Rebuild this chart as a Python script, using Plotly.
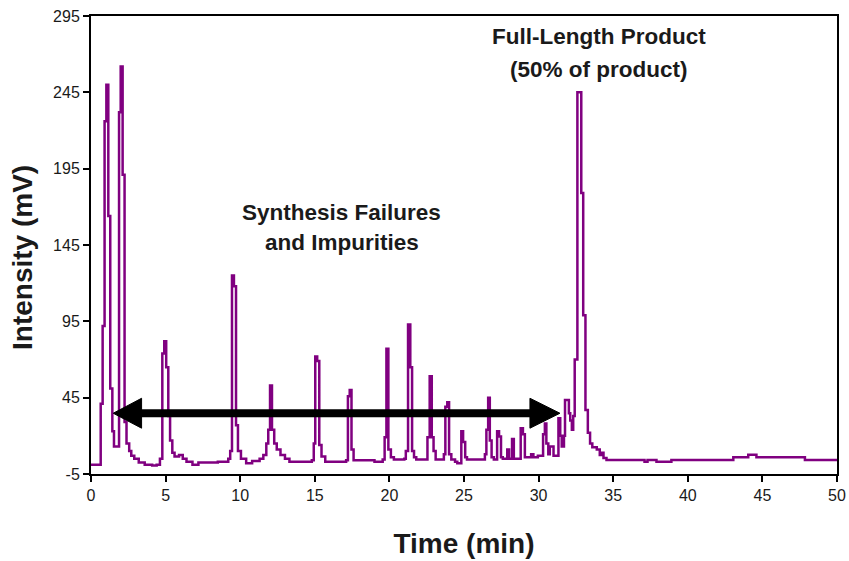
import plotly.graph_objects as go

# Chromatogram (step trace): time (min) and intensity (mV)
time_min = [0, 0.65, 0.78, 0.91, 1.03, 1.16, 1.29, 1.43, 1.54, 1.88, 1.99, 2.12, 2.25, 2.38,
            2.56, 2.7, 2.9, 3.2, 3.6, 4.1, 4.4, 4.62, 4.78, 4.91, 5.04, 5.18, 5.3, 5.45, 5.6,
            5.9, 6.15, 6.4, 6.8, 7.2, 8.5, 9.2, 9.33, 9.45, 9.58, 9.72, 9.85, 10.05, 10.4,
            10.8, 11.3, 11.55, 11.75, 11.88, 12.0, 12.13, 12.28, 12.45, 12.7, 13.0, 13.3,
            14.8, 14.93, 15.03, 15.16, 15.3, 15.45, 15.7, 17.1, 17.22, 17.34, 17.46, 17.6,
            19.0, 19.55, 19.68, 19.8, 19.93, 20.1, 20.3, 21.0, 21.1, 21.25, 21.4, 21.52,
            21.65, 21.8, 22.55, 22.7, 22.84, 22.96, 23.1, 23.65, 23.75, 23.88, 24.0, 24.15,
            24.4, 24.55, 24.82, 24.94, 25.08, 25.2, 26.4, 26.5, 26.62, 26.73, 26.85, 27.0,
            27.22, 27.35, 27.48, 27.6, 27.9, 28.02, 28.22, 28.34, 28.8, 28.95, 29.08, 29.5,
            29.65, 29.95, 30.3, 30.42, 30.52, 30.65, 30.75, 31.0, 31.33, 31.45, 31.55, 31.7,
            31.77, 32.03, 32.12, 32.23, 32.32, 32.42, 32.6, 32.86, 32.99, 33.14, 33.3, 33.45,
            33.6, 33.9, 34.1, 34.25, 34.35, 34.55, 37.1, 37.3, 37.9, 38.9, 43.05, 44.05, 44.6,
            47.85, 50]
intensity_mv = [1, 41, 92, 226, 250, 164, 51, 23, 13, 232, 262, 191, 29, 15,
                10, 7, 5, 2.5, 1, 0.5, 1, 5, 74, 82, 65, 33, 17, 9, 6.5,
                7.5, 5, 3, 1, 2.5, 3, 5, 10, 125, 118, 27, 10, 5, 2,
                3.5, 5, 7.5, 15, 24, 53, 24, 15, 11, 7.5, 5, 3,
                4, 15, 72, 69, 14, 6.5, 3, 4, 46, 50, 11, 4,
                3, 4.5, 19, 77, 11, 6, 4.5, 5, 10, 93, 65, 10,
                6, 4.5, 19, 59, 19, 10, 4.5, 8, 39, 42, 8, 4.5,
                3, 2, 23, 16, 6, 4.5, 8, 24, 45, 17, 6, 4.5,
                23, 19.5, 6, 5, 11, 5, 18, 5, 25, 21, 6, 8,
                6, 7, 21, 28, 15, 8, 13, 7, 31.5, 20, 13, 20,
                43.5, 34.8, 30, 24, 33, 70, 245, 179, 99, 37, 22, 15,
                12.5, 11, 7.5, 9, 5.5, 4.2, 3, 4.2, 3, 4.2, 5.9, 7.6, 5.9,
                4.2, 4.2]

x_ticks = [0, 5, 10, 15, 20, 25, 30, 35, 40, 45, 50]
y_ticks = [-5, 45, 95, 145, 195, 245, 295]
y_tick_labels = ["-5", "45", "95", "145", "195", "245", "295"]

FONT = "Liberation Sans, Arial, sans-serif"
TXT = "#1a1a1a"

fig = go.Figure()
fig.add_trace(go.Scatter(
    x=time_min, y=intensity_mv, mode="lines",
    line=dict(color="#800080", width=2.5, shape="hv"),
    showlegend=False, hoverinfo="skip", cliponaxis=True))

# double-headed arrow
arrow_y = 34.8
fig.add_shape(type="line", x0=3.0, x1=29.8, y0=arrow_y, y1=arrow_y,
              line=dict(color="black", width=8), layer="above")
fig.add_shape(type="path", path=f"M 1.49,{arrow_y} L 3.39,44.6 L 3.39,25.0 Z",
              fillcolor="black", line=dict(color="black", width=1), layer="above")
fig.add_shape(type="path", path=f"M 31.43,{arrow_y} L 29.42,44.6 L 29.42,25.0 Z",
              fillcolor="black", line=dict(color="black", width=1), layer="above")

labels = [
    ("Full-Length Product", 34.05, 281.4),
    ("(50% of product)", 34.05, 259.7),
    ("Synthesis Failures", 16.82, 166.0),
    ("and Impurities", 16.82, 146.4),
]
for txt, x, y in labels:
    fig.add_annotation(x=x, y=y, text=f"<b>{txt}</b>", showarrow=False,
                       xanchor="center", yanchor="middle",
                       font=dict(family=FONT, size=22.5, color=TXT))

# y-axis title placed as rotated text
fig.add_annotation(x=-0.0912, y=0.4738, xref="paper", yref="paper",
                   text="<b>Intensity (mV)</b>", textangle=-90, showarrow=False,
                   xanchor="center", yanchor="middle",
                   font=dict(family=FONT, size=28, color=TXT))

axis_common = dict(showline=True, linecolor="black", linewidth=2, mirror=True,
                   ticks="outside", ticklen=6, tickwidth=2, tickcolor="black",
                   showgrid=False, zeroline=False, automargin=False,
                   tickfont=dict(family=FONT, size=16, color=TXT))

fig.update_xaxes(range=[0, 50], tickvals=x_ticks,
                 title=dict(text="<b>Time (min)</b>", standoff=30,
                            font=dict(family=FONT, size=28, color=TXT)),
                 **axis_common)
fig.update_yaxes(range=[-5, 295], tickvals=y_ticks, ticktext=y_tick_labels,
                 **axis_common)

fig.update_layout(width=849, height=561,
                  margin=dict(l=91, r=12, t=16, b=87),
                  paper_bgcolor="white", plot_bgcolor="white")

fig.write_html("out.html", config={"displayModeBar": False},
               post_script="document.body.style.margin='0';document.body.style.padding='0';")
